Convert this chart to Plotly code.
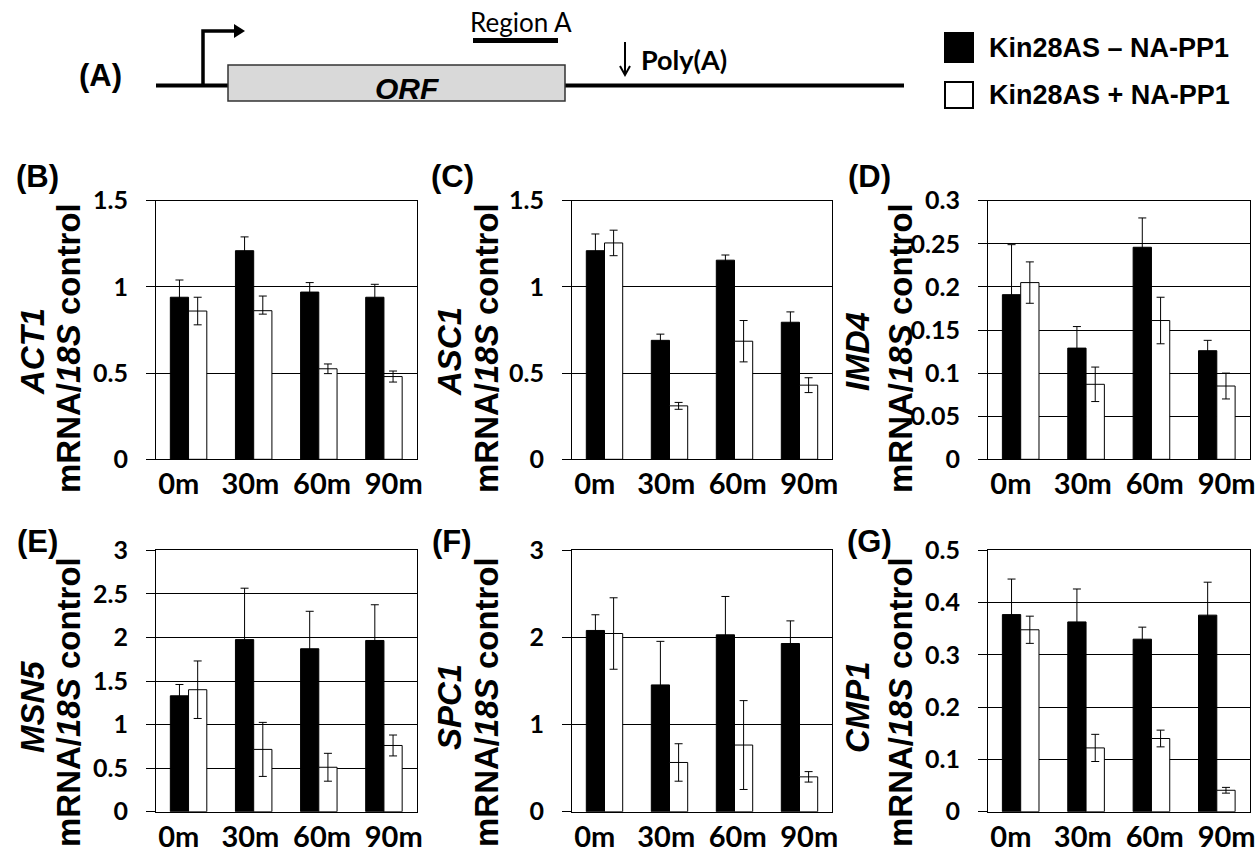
import plotly.graph_objects as go

W, H = 1260, 856

# ---------------- data ----------------
time_labels = ["0m", "30m", "60m", "90m"]
series_names = ["Kin28AS \u2013 NA-PP1", "Kin28AS + NA-PP1"]
genes = ["ACT1", "ASC1", "IMD4", "MSN5", "SPC1", "CMP1"]
panel_tags = ["(B)", "(C)", "(D)", "(E)", "(F)", "(G)"]

act1_minus = [0.94, 1.21, 0.97, 0.94]
act1_minus_err = [0.10, 0.08, 0.055, 0.075]
act1_plus = [0.86, 0.862, 0.525, 0.48]
act1_plus_err = [0.08, 0.085, 0.028, 0.032]
act1_plus_err_low = [0.08, 0.02, 0.028, 0.032]

asc1_minus = [1.21, 0.69, 1.155, 0.795]
asc1_minus_err = [0.097, 0.036, 0.03, 0.06]
asc1_plus = [1.255, 0.31, 0.685, 0.43]
asc1_plus_err = [0.074, 0.02, 0.12, 0.043]

imd4_minus = [0.191, 0.129, 0.246, 0.126]
imd4_minus_err = [0.058, 0.025, 0.034, 0.012]
imd4_plus = [0.205, 0.087, 0.161, 0.085]
imd4_plus_err = [0.024, 0.02, 0.027, 0.015]

msn5_minus = [1.33, 1.975, 1.87, 1.965]
msn5_minus_err = [0.13, 0.59, 0.43, 0.41]
msn5_plus = [1.40, 0.715, 0.51, 0.76]
msn5_plus_err = [0.33, 0.31, 0.16, 0.12]

spc1_minus = [2.08, 1.455, 2.03, 1.93]
spc1_minus_err = [0.18, 0.50, 0.44, 0.26]
spc1_plus = [2.045, 0.565, 0.765, 0.40]
spc1_plus_err = [0.41, 0.215, 0.51, 0.06]

cmp1_minus = [0.377, 0.363, 0.330, 0.376]
cmp1_minus_err = [0.068, 0.063, 0.023, 0.063]
cmp1_plus = [0.348, 0.122, 0.140, 0.041]
cmp1_plus_err = [0.026, 0.026, 0.016, 0.0055]

y_max = [1.5, 1.5, 0.3, 3, 3, 0.5]
y_tickvals = [
    [0, 0.5, 1, 1.5],
    [0, 0.5, 1, 1.5],
    [0, 0.05, 0.1, 0.15, 0.2, 0.25, 0.3],
    [0, 0.5, 1, 1.5, 2, 2.5, 3],
    [0, 1, 2, 3],
    [0, 0.1, 0.2, 0.3, 0.4, 0.5],
]

# (minus values, minus err, plus values, plus err up, plus err down)
panels = [
    (act1_minus, act1_minus_err, act1_plus, act1_plus_err, act1_plus_err_low),
    (asc1_minus, asc1_minus_err, asc1_plus, asc1_plus_err, asc1_plus_err),
    (imd4_minus, imd4_minus_err, imd4_plus, imd4_plus_err, imd4_plus_err),
    (msn5_minus, msn5_minus_err, msn5_plus, msn5_plus_err, msn5_plus_err),
    (spc1_minus, spc1_minus_err, spc1_plus, spc1_plus_err, spc1_plus_err),
    (cmp1_minus, cmp1_minus_err, cmp1_plus, cmp1_plus_err, cmp1_plus_err),
]

# ---------------- layout geometry (pixels) ----------------
col_px = [(156, 416.5), (572, 832), (988, 1249.5)]
row_px = [(200.7, 459.3), (550.3, 811.7)]
LABEL_SPREAD = 1.1


def fx(p):
    return p / W


def fy(p):
    return 1 - p / H


def nm(prefix, i):
    return prefix + ("" if i == 1 else str(i))


ARIAL = "Liberation Sans, Arial, sans-serif"
CALI = "Lato, Carlito, Calibri, sans-serif"

fig = go.Figure()
layout_axes = {}
annotations = []
n_cat = len(time_labels)

for k in range(6):
    r, c = divmod(k, 3)
    x0, x1 = col_px[c]
    y0, y1 = row_px[r]
    i = k + 1
    j = k + 7
    minus, minus_err, plus, plus_err, plus_err_low = panels[k]
    xa, ya = nm("x", i), nm("y", i)

    fig.add_trace(go.Bar(
        x=time_labels, y=minus, name=series_names[0], xaxis=xa, yaxis=ya,
        marker=dict(color="black", line=dict(color="black", width=1)),
        error_y=dict(type="data", array=minus_err, color="black", thickness=1, width=4),
        showlegend=False, hoverinfo="skip"))
    fig.add_trace(go.Bar(
        x=time_labels, y=plus, name=series_names[1], xaxis=xa, yaxis=ya,
        marker=dict(color="white", line=dict(color="black", width=1)),
        error_y=dict(type="data", symmetric=False, array=plus_err, arrayminus=plus_err_low,
                     color="black", thickness=1, width=4),
        showlegend=False, hoverinfo="skip"))
    # carrier for the category labels (spread slightly wider, as in the source figure)
    fig.add_trace(go.Scatter(
        x=time_labels, y=[None] * n_cat, xaxis=nm("x", j), yaxis=nm("y", j),
        mode="markers", marker=dict(opacity=0), showlegend=False, hoverinfo="skip"))

    layout_axes[nm("xaxis", i)] = dict(
        domain=[fx(x0), fx(x1)], anchor=ya, type="category", automargin=False,
        categoryorder="array", categoryarray=time_labels, range=[-0.5, n_cat - 0.5],
        showline=True, linecolor="black", linewidth=1, mirror=True,
        ticks="", showticklabels=False, showgrid=False, zeroline=False)
    layout_axes[nm("yaxis", i)] = dict(
        domain=[fy(y1), fy(y0)], anchor=xa, range=[0, y_max[k]], automargin=False,
        tickmode="array", tickvals=y_tickvals[k],
        showline=True, linecolor="black", linewidth=1, mirror=True,
        ticks="outside", ticklen=9, tickwidth=1, tickcolor="black",
        showgrid=True, gridcolor="black", gridwidth=1, zeroline=False,
        tickfont=dict(family=CALI, size=25, color="black", weight="bold"),
        ticklabelstandoff=13)
    # label axis: same centre, slightly wider category spacing, clamped to the page
    cx = (x0 + x1) / 2
    spacing = (x1 - x0) / n_cat * LABEL_SPREAD
    mid = (n_cat - 1) / 2
    a = max(0, cx - spacing * n_cat / 2)
    b = min(W, cx + spacing * n_cat / 2)
    layout_axes[nm("xaxis", j)] = dict(
        domain=[fx(a), fx(b)], anchor=nm("y", j), type="category", automargin=False,
        categoryorder="array", categoryarray=time_labels,
        range=[mid + (a - cx) / spacing, mid + (b - cx) / spacing],
        showline=False, ticks="", showgrid=False, zeroline=False,
        tickfont=dict(family=CALI, size=29, color="black", weight="bold"),
        ticklabelstandoff=5)
    layout_axes[nm("yaxis", j)] = dict(
        domain=[fy(y1), fy(y0)], anchor=nm("x", j), visible=False, range=[0, 1],
        automargin=False)

    # panel tag
    annotations.append(dict(
        text="<b>%s</b>" % panel_tags[k], xref="paper", yref="paper",
        x=fx([37, 452, 869][c]), y=fy([177, 541][r]), xanchor="center", yanchor="middle",
        showarrow=False, font=dict(family=ARIAL, size=31, color="black")))
    # y titles (two lines)
    annotations.append(dict(
        text="<b><i>%s</i></b>" % genes[k], xref="paper", yref="paper",
        x=fx([32, 449, 857][c]), y=fy([352, 707][r]), xanchor="center", yanchor="middle",
        textangle=-90, showarrow=False, font=dict(family=ARIAL, size=33, color="black")))
    annotations.append(dict(
        text="<b>mRNA/<i>18S</i> control</b>", xref="paper", yref="paper",
        x=fx([68, 486, 900][c]), y=fy([348, 702][r]), xanchor="center", yanchor="middle",
        textangle=-90, showarrow=False, font=dict(family=ARIAL, size=33, color="black")))

# ---------------- panel (A) gene diagram ----------------
shapes = []


def line_px(xa_, ya_, xb, yb, w, color="black"):
    shapes.append(dict(type="line", xref="paper", yref="paper",
                       x0=fx(xa_), y0=fy(ya_), x1=fx(xb), y1=fy(yb),
                       line=dict(color=color, width=w)))


def path_px(pts, w=0, fill=None, close=False, color="black"):
    d = "M " + " L ".join("%f %f" % (fx(px), fy(py)) for px, py in pts)
    if close:
        d += " Z"
    s = dict(type="path", xref="paper", yref="paper", path=d,
             line=dict(color=color, width=w))
    if fill:
        s["fillcolor"] = fill
    shapes.append(s)


line_px(156, 85.5, 904, 85.5, 4)
shapes.append(dict(type="rect", xref="paper", yref="paper",
                   x0=fx(228), x1=fx(565), y0=fy(101), y1=fy(65),
                   fillcolor="#d9d9d9", line=dict(color="#333333", width=1.5)))
path_px([(203, 85.5), (203, 31), (236, 31)], w=3.5)
path_px([(234, 24), (245, 31), (234, 38)], w=0, fill="black", close=True)
line_px(473, 40.5, 558, 40.5, 5)
line_px(625, 42, 625, 74, 2)
path_px([(620, 66), (625, 75), (630, 66)], w=2)

annotations += [
    dict(text="<b>(A)</b>", xref="paper", yref="paper", x=fx(100), y=fy(76),
         xanchor="center", yanchor="middle", showarrow=False,
         font=dict(family=ARIAL, size=31, color="black")),
    dict(text="<b><i>ORF</i></b>", xref="paper", yref="paper", x=fx(407), y=fy(89),
         xanchor="center", yanchor="middle", showarrow=False,
         font=dict(family=ARIAL, size=30, color="black")),
    dict(text="Region A", xref="paper", yref="paper", x=fx(521), y=fy(22),
         xanchor="center", yanchor="middle", showarrow=False,
         font=dict(family=CALI, size=26, color="black")),
    dict(text="<b>Poly(A)</b>", xref="paper", yref="paper", x=fx(639), y=fy(60),
         xanchor="left", yanchor="middle", showarrow=False,
         font=dict(family=CALI, size=27, color="black")),
]

# ---------------- legend (drawn) ----------------
legend_fill = ["black", "white"]
legend_rows = [(33, 62), (82, 108)]
for (ly0, ly1), name, fill in zip(legend_rows, series_names, legend_fill):
    shapes.append(dict(type="rect", xref="paper", yref="paper",
                       x0=fx(945), x1=fx(973), y0=fy(ly1), y1=fy(ly0),
                       fillcolor=fill, line=dict(color="black", width=2)))
    annotations.append(dict(
        text="<b>%s</b>" % name, xref="paper", yref="paper", x=fx(987), y=fy((ly0 + ly1) / 2),
        xanchor="left", yanchor="middle", showarrow=False,
        font=dict(family=ARIAL, size=27, color="black")))

fig.update_layout(
    width=W, height=H, margin=dict(l=0, r=0, t=0, b=0, pad=0, autoexpand=False),
    paper_bgcolor="white", plot_bgcolor="rgba(0,0,0,0)",
    barmode="group", bargap=0.44, bargroupgap=0,
    showlegend=False, shapes=shapes, annotations=annotations,
    **layout_axes)

fig.write_html("out.html")
